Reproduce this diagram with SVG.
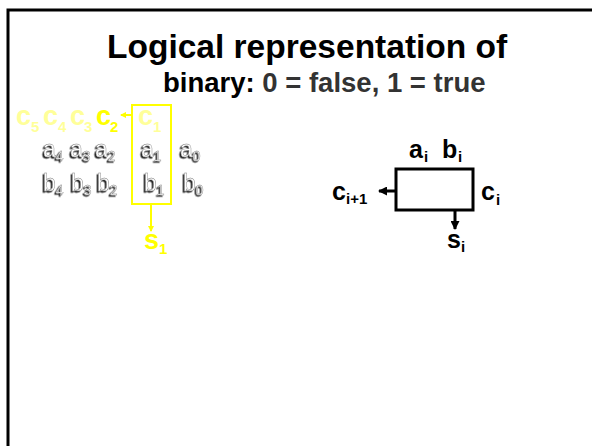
<svg xmlns="http://www.w3.org/2000/svg" width="592" height="446" viewBox="0 0 592 446">
<style>
text{font-family:"Liberation Sans",Arial,sans-serif}
.t1{font-size:33.5px;font-weight:bold;fill:#000}
.t2{font-size:27.5px;font-weight:bold;fill:#000}
.gr{fill:#333}
.cy{font-size:27px;font-weight:bold;fill:#ffff99}
.cY{font-size:27px;font-weight:bold;fill:#ffff00}
.lb{font-size:25px;font-weight:bold;fill:#000}
text.sub{font-size:15px}
.emb{font-size:23px;fill:#fff;stroke:#777;stroke-width:0.4;filter:url(#sh)}
.esub{font-size:14px}
.ysl{stroke:#ffff00;stroke-width:2;fill:none}
.bl{stroke:#000;stroke-width:3;fill:none}
</style>
<defs>
<filter id="sh" x="-20%" y="-20%" width="140%" height="140%">
<feDropShadow dx="-1.5" dy="1.5" stdDeviation="0.3" flood-color="#222" flood-opacity="1"/>
</filter>
<marker id="ya" markerWidth="6" markerHeight="6" refX="5" refY="3" orient="auto" markerUnits="userSpaceOnUse">
<path d="M0,0 L6,3 L0,6 z" fill="#ffff00"/>
</marker>
<marker id="ba" markerWidth="9" markerHeight="9" refX="8" refY="4.5" orient="auto" markerUnits="userSpaceOnUse">
<path d="M0,0 L9,4.5 L0,9 z" fill="#000"/>
</marker>
</defs>
<rect x="8" y="10" width="600" height="460" fill="none" stroke="#000" stroke-width="3"/>
<g id="title">
<text class="t1" x="107" y="58">Logical representation of</text>
<text class="t2" x="163" y="92">binary: <tspan class="gr">0 = false, 1 = true</tspan></text>
</g>
<g id="carries">
<text class="cy" x="16" y="125">c</text><text class="cy sub" x="31" y="132">5</text>
<text class="cy" x="43" y="125">c</text><text class="cy sub" x="58" y="132">4</text>
<text class="cy" x="70" y="125">c</text><text class="cy sub" x="84" y="132">3</text>
<text class="cY" x="96" y="125">c</text><text class="cY sub" x="110" y="132">2</text>
<text class="cy" x="138" y="125">c</text><text class="cy sub" x="153" y="132">1</text>
</g>
<g id="operands">
<text class="emb" x="43" y="157">a<tspan class="esub" dy="4">4</tspan></text>
<text class="emb" x="70" y="157">a<tspan class="esub" dy="4">3</tspan></text>
<text class="emb" x="95" y="157">a<tspan class="esub" dy="4">2</tspan></text>
<text class="emb" x="141" y="157">a<tspan class="esub" dy="4">1</tspan></text>
<text class="emb" x="180" y="157">a<tspan class="esub" dy="4">0</tspan></text>
<text class="emb" x="43" y="191">b<tspan class="esub" dy="4">4</tspan></text>
<text class="emb" x="71" y="191">b<tspan class="esub" dy="4">3</tspan></text>
<text class="emb" x="97" y="191">b<tspan class="esub" dy="4">2</tspan></text>
<text class="emb" x="144" y="191">b<tspan class="esub" dy="4">1</tspan></text>
<text class="emb" x="183" y="191">b<tspan class="esub" dy="4">0</tspan></text>
</g>
<g id="column1">
<rect class="ysl" x="132" y="105" width="39" height="99"/>
</g>
<g id="sum1">
<text class="cY" x="144" y="249">s</text><text class="cY sub" x="159" y="254">1</text>
</g>
<g id="adder">
<rect class="bl" x="396" y="169" width="77" height="41" stroke-width="3.5"/>
<text class="lb" x="409" y="158">a</text><text class="lb sub" x="424" y="162">i</text>
<text class="lb" x="442" y="158">b</text><text class="lb sub" x="458" y="162">i</text>
<text class="lb" x="332" y="200">c</text><text class="lb sub" x="346" y="204">i+1</text>
<text class="lb" x="481" y="200">c</text><text class="lb sub" x="496" y="205">i</text>
<text class="lb" x="447" y="248">s</text><text class="lb sub" x="461" y="252">i</text>
</g>
<g id="connectors">
<line class="ysl" x1="132" y1="115" x2="121" y2="115" marker-end="url(#ya)"/>
<line class="ysl" x1="151" y1="204" x2="151" y2="231" marker-end="url(#ya)"/>
<line class="bl" x1="396" y1="191" x2="379" y2="191" marker-end="url(#ba)"/>
<line class="bl" x1="455" y1="210" x2="455" y2="229" marker-end="url(#ba)"/>
</g>
</svg>
